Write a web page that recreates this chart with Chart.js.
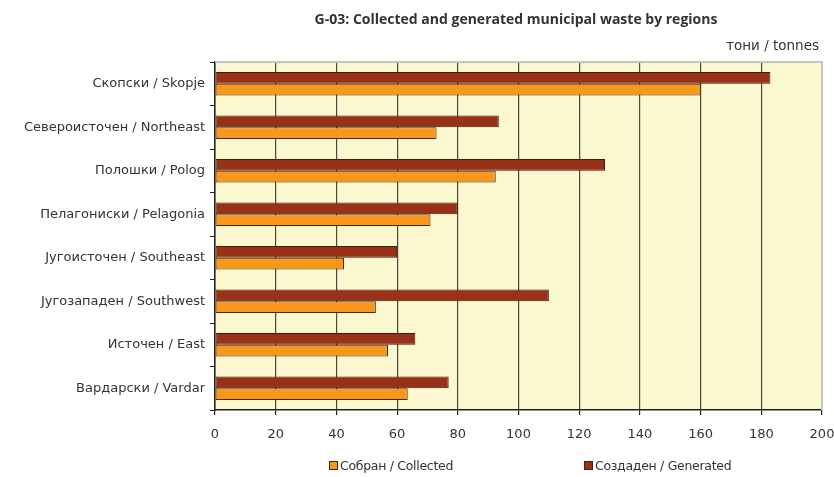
<!DOCTYPE html>
<html>
<head>
<meta charset="utf-8">
<title>G-03: Collected and generated municipal waste by regions</title>
<script src="https://cdn.jsdelivr.net/npm/chart.js@4"></script>
<style>
  html, body { margin: 0; padding: 0; background: #fff; }
  #wrap { position: relative; width: 834px; height: 477px; }
  #legend {
    position: absolute; top: 458px; left: 0; width: 834px; height: 17px;
    font: 12.5px 'DejaVu Sans', sans-serif; color: #333;
  }
  .item { position: absolute; top: 0; white-space: nowrap; letter-spacing: -0.3px; }
  .box { display: inline-block; width: 7px; height: 7px; border: 1px solid #4a2208;
         margin-right: 2px; vertical-align: 0px; }
</style>
</head>
<body>
<div id="wrap">
  <canvas id="wasteChart" width="834" height="477"></canvas>
  <div id="legend">
    <span class="item" style="left:329px"><span class="box" style="background:#f7981d"></span>Собран / Collected</span>
    <span class="item" style="left:584px"><span class="box" style="background:#993118"></span>Создаден / Generated</span>
  </div>
</div>

<script>
// ── DATA (thousand tonnes) ─────────────────────────────
const regions = [
  'Скопски / Skopje',
  'Североисточен / Northeast',
  'Полошки / Polog',
  'Пелагониски / Pelagonia',
  'Југоисточен / Southeast',
  'Југозападен / Southwest',
  'Источен / East',
  'Вардарски / Vardar'
];
const generated = [183, 93.5, 128.5, 80, 60, 110, 66, 77];
const collected = [160, 73, 92.5, 71, 42.5, 53, 57, 63.5];
const xTicks    = [0, 20, 40, 60, 80, 100, 120, 140, 160, 180, 200];

const chartTitle = 'G-03: Collected and generated municipal waste by regions';
const unitLabel  = 'тони / tonnes';

// ── PLUGIN: yellow plot background + grey top/right frame + texts
const framePlugin = {
  id: 'frame',
  beforeDraw(chart) {
    const { ctx, chartArea: a } = chart;
    ctx.save();
    ctx.fillStyle = '#fbf8d0';
    ctx.fillRect(a.left, a.top, a.right - a.left, a.bottom - a.top);
    ctx.restore();
  },
  afterDatasetsDraw(chart) {
    const { ctx, chartArea: a } = chart;
    ctx.save();
    ctx.strokeStyle = '#c4c4c4';
    ctx.lineWidth = 2;
    ctx.beginPath();
    ctx.moveTo(a.left, a.top);
    ctx.lineTo(a.right, a.top);
    ctx.lineTo(a.right, a.bottom);
    ctx.stroke();

    // title and unit text above the plot
    ctx.fillStyle = '#333';
    ctx.textBaseline = 'middle';
    ctx.textAlign = 'center';
    ctx.font = 'bold 14px "Open Sans"';
    ctx.fillText(chartTitle, 516, 20);
    ctx.textAlign = 'right';
    ctx.font = '13.5px "DejaVu Sans"';
    ctx.fillText(unitLabel, 819, 46);
    ctx.restore();
  }
};

// ── BUILD: horizontal grouped bar chart ────────────────
function buildChart() {
  const ctx = document.getElementById('wasteChart').getContext('2d');

  new Chart(ctx, {
    type: 'bar',
    data: {
      labels: regions,
      datasets: [
        {
          label: 'Создаден / Generated',
          data: generated,
          backgroundColor: '#993118',
          borderColor: '#3d1a0c',
          borderWidth: 1,
          borderSkipped: false,
          categoryPercentage: 0.54,
          barPercentage: 1.0
        },
        {
          label: 'Собран / Collected',
          data: collected,
          backgroundColor: '#f7981d',
          borderColor: '#4a2a0a',
          borderWidth: 1,
          borderSkipped: false,
          categoryPercentage: 0.54,
          barPercentage: 1.0
        }
      ]
    },
    options: {
      indexAxis: 'y',
      responsive: false,
      animation: false,
      layout: { padding: { top: 62, right: 0, left: 0, bottom: 0 } },
      plugins: {
        legend: { display: false },
        tooltip: { enabled: false }
      },
      scales: {
        x: {
          min: 0,
          max: 200,
          afterBuildTicks: scale => { scale.ticks = xTicks.map(v => ({ value: v })); },
          // fixed height, and keep the plot running to x=822 like the original
          afterFit: scale => { scale.height = 67; scale.paddingRight = 12; scale.paddingLeft = 0; },
          grid: { color: '#4a4a3a', lineWidth: 1.2, tickLength: 5, tickColor: '#222' },
          border: { color: '#222', width: 1.5 },
          ticks: { color: '#333', padding: 12, font: { family: 'DejaVu Sans', size: 13 } }
        },
        y: {
          afterFit: scale => { scale.width = 215; },
          grid: { drawOnChartArea: false, tickLength: 5, color: '#222' },
          border: { color: '#222', width: 1.5 },
          ticks: { color: '#333', padding: 5, font: { family: 'DejaVu Sans', size: 13 } }
        }
      }
    },
    plugins: [framePlugin]
  });
}

window.onload = buildChart;
</script>
</body>
</html>
